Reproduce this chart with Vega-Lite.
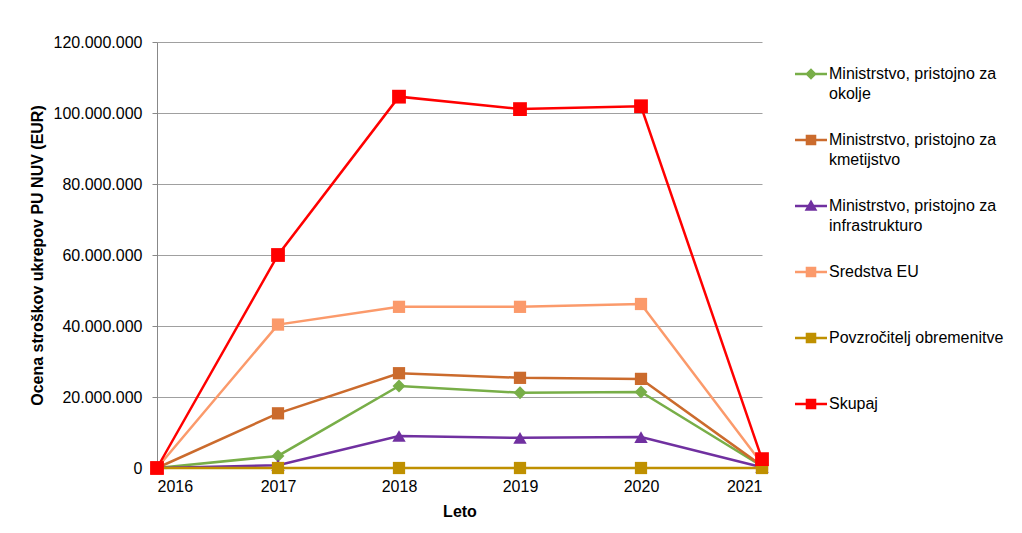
{
  "$schema": "https://vega.github.io/schema/vega-lite/v6.json",
  "width": 605,
  "height": 426,
  "autosize": {"type": "none"},
  "padding": {"left": 157, "top": 42, "right": 260, "bottom": 65},
  "background": "white",
  "config": {
    "locale": {"number": {"decimal": ",", "thousands": ".", "grouping": [3], "currency": ["", " €"]}},
    "view": {"stroke": null},
    "font": "Liberation Sans"
  },
  "data": {
    "values": [
      {"year": 2016, "series": "Ministrstvo, pristojno za okolje", "value": 0},
      {"year": 2017, "series": "Ministrstvo, pristojno za okolje", "value": 3400000},
      {"year": 2018, "series": "Ministrstvo, pristojno za okolje", "value": 23100000},
      {"year": 2019, "series": "Ministrstvo, pristojno za okolje", "value": 21200000},
      {"year": 2020, "series": "Ministrstvo, pristojno za okolje", "value": 21400000},
      {"year": 2021, "series": "Ministrstvo, pristojno za okolje", "value": 500000},
      {"year": 2016, "series": "Ministrstvo, pristojno za kmetijstvo", "value": 0},
      {"year": 2017, "series": "Ministrstvo, pristojno za kmetijstvo", "value": 15400000},
      {"year": 2018, "series": "Ministrstvo, pristojno za kmetijstvo", "value": 26700000},
      {"year": 2019, "series": "Ministrstvo, pristojno za kmetijstvo", "value": 25400000},
      {"year": 2020, "series": "Ministrstvo, pristojno za kmetijstvo", "value": 25100000},
      {"year": 2021, "series": "Ministrstvo, pristojno za kmetijstvo", "value": 600000},
      {"year": 2016, "series": "Ministrstvo, pristojno za infrastrukturo", "value": 0},
      {"year": 2017, "series": "Ministrstvo, pristojno za infrastrukturo", "value": 800000},
      {"year": 2018, "series": "Ministrstvo, pristojno za infrastrukturo", "value": 9000000},
      {"year": 2019, "series": "Ministrstvo, pristojno za infrastrukturo", "value": 8500000},
      {"year": 2020, "series": "Ministrstvo, pristojno za infrastrukturo", "value": 8700000},
      {"year": 2021, "series": "Ministrstvo, pristojno za infrastrukturo", "value": 200000},
      {"year": 2016, "series": "Sredstva EU", "value": 0},
      {"year": 2017, "series": "Sredstva EU", "value": 40400000},
      {"year": 2018, "series": "Sredstva EU", "value": 45400000},
      {"year": 2019, "series": "Sredstva EU", "value": 45400000},
      {"year": 2020, "series": "Sredstva EU", "value": 46200000},
      {"year": 2021, "series": "Sredstva EU", "value": 1200000},
      {"year": 2016, "series": "Povzročitelj obremenitve", "value": 0},
      {"year": 2017, "series": "Povzročitelj obremenitve", "value": 0},
      {"year": 2018, "series": "Povzročitelj obremenitve", "value": 0},
      {"year": 2019, "series": "Povzročitelj obremenitve", "value": 0},
      {"year": 2020, "series": "Povzročitelj obremenitve", "value": 0},
      {"year": 2021, "series": "Povzročitelj obremenitve", "value": 0},
      {"year": 2016, "series": "Skupaj", "value": 0},
      {"year": 2017, "series": "Skupaj", "value": 60000000},
      {"year": 2018, "series": "Skupaj", "value": 104600000},
      {"year": 2019, "series": "Skupaj", "value": 101100000},
      {"year": 2020, "series": "Skupaj", "value": 101900000},
      {"year": 2021, "series": "Skupaj", "value": 2500000}
    ]
  },
  "encoding": {
    "x": {
      "field": "year", "type": "quantitative",
      "scale": {"domain": [2016, 2021], "nice": false, "zero": false},
      "axis": {
        "title": "Leto", "values": [2016, 2017, 2018, 2019, 2020, 2021], "format": "d",
        "grid": false, "ticks": false, "domainColor": "#888888",
        "labelFontSize": 16, "labelColor": "#000000", "labelPadding": 10,
        "titleFontSize": 16, "titleFontWeight": "bold", "titleColor": "#000000", "titlePadding": 9
      }
    },
    "y": {
      "field": "value", "type": "quantitative",
      "scale": {"domain": [0, 120000000], "nice": false},
      "axis": {
        "title": "Ocena stroškov ukrepov PU NUV (EUR)",
        "values": [0, 20000000, 40000000, 60000000, 80000000, 100000000, 120000000],
        "format": ",d",
        "gridColor": "#A0A0A0", "gridWidth": 1,
        "domainColor": "#888888", "tickColor": "#888888", "tickSize": 5,
        "labelFontSize": 16, "labelColor": "#000000", "labelPadding": 10,
        "titleFontSize": 16, "titleFontWeight": "bold", "titleColor": "#000000", "titlePadding": 8
      }
    }
  },
  "layer": [
    {
      "mark": {"type": "line", "strokeWidth": 2.5},
      "encoding": {
        "color": {
          "field": "series", "type": "nominal",
          "scale": {
            "domain": ["Ministrstvo, pristojno za okolje", "Ministrstvo, pristojno za kmetijstvo", "Ministrstvo, pristojno za infrastrukturo", "Sredstva EU", "Povzročitelj obremenitve", "Skupaj"],
            "range": ["#78AE48", "#CB6B2D", "#7030A0", "#FB9A6B", "#BF9000", "#FF0000"]
          },
          "legend": {
            "orient": "none", "legendX": 638, "legendY": 16,
            "title": null,
            "labelFont": "Liberation Sans", "labelFontSize": 16, "labelColor": "#000000",
            "labelLimit": 300, "labelOffset": 2,
            "symbolSize": 1024, "symbolStrokeWidth": 0, "symbolOpacity": 1,
            "rowPadding": 22,
            "labelExpr": "substring(datum.label, 0, 11) == 'Ministrstvo' ? ['Ministrstvo, pristojno za', substring(datum.label, 26)] : [datum.label, ' ']",
            "encoding": {
              "symbols": {
                "shape": {"value": {"expr": "datum.value == 'Ministrstvo, pristojno za okolje' ? 'M-1,-0.08H1V0.08H-1Z M0,-0.36L0.36,0L0,0.36L-0.36,0Z' : datum.value == 'Ministrstvo, pristojno za infrastrukturo' ? 'M-1,-0.08H1V0.08H-1Z M0,-0.4L0.4,0.3L-0.4,0.3Z' : 'M-1,-0.08H1V0.08H-1Z M-0.33,-0.33H0.33V0.33H-0.33Z'"}},
                "fill": {"value": {"expr": "scale('color', datum.value)"}}
              },
              "labels": {
                "lineHeight": {"value": 20}
              }
            }
          }
        }
      }
    },
    {
      "transform": [{"filter": "datum.series == 'Ministrstvo, pristojno za okolje'"}],
      "mark": {"type": "point", "shape": "diamond", "size": 165, "filled": true, "opacity": 1, "strokeWidth": 0},
      "encoding": {"color": {"field": "series", "type": "nominal"}}
    },
    {
      "transform": [{"filter": "datum.series == 'Ministrstvo, pristojno za infrastrukturo'"}],
      "mark": {"type": "point", "shape": "triangle-up", "size": 180, "filled": true, "opacity": 1, "strokeWidth": 0},
      "encoding": {"color": {"field": "series", "type": "nominal"}}
    },
    {
      "transform": [{"filter": "datum.series == 'Ministrstvo, pristojno za kmetijstvo' || datum.series == 'Sredstva EU' || datum.series == 'Povzročitelj obremenitve'"}],
      "mark": {"type": "point", "shape": "square", "size": 150, "filled": true, "opacity": 1, "strokeWidth": 0},
      "encoding": {"color": {"field": "series", "type": "nominal"}}
    },
    {
      "transform": [{"filter": "datum.series == 'Skupaj'"}],
      "mark": {"type": "point", "shape": "square", "size": 190, "filled": true, "opacity": 1, "strokeWidth": 0},
      "encoding": {"color": {"field": "series", "type": "nominal"}}
    }
  ]
}
